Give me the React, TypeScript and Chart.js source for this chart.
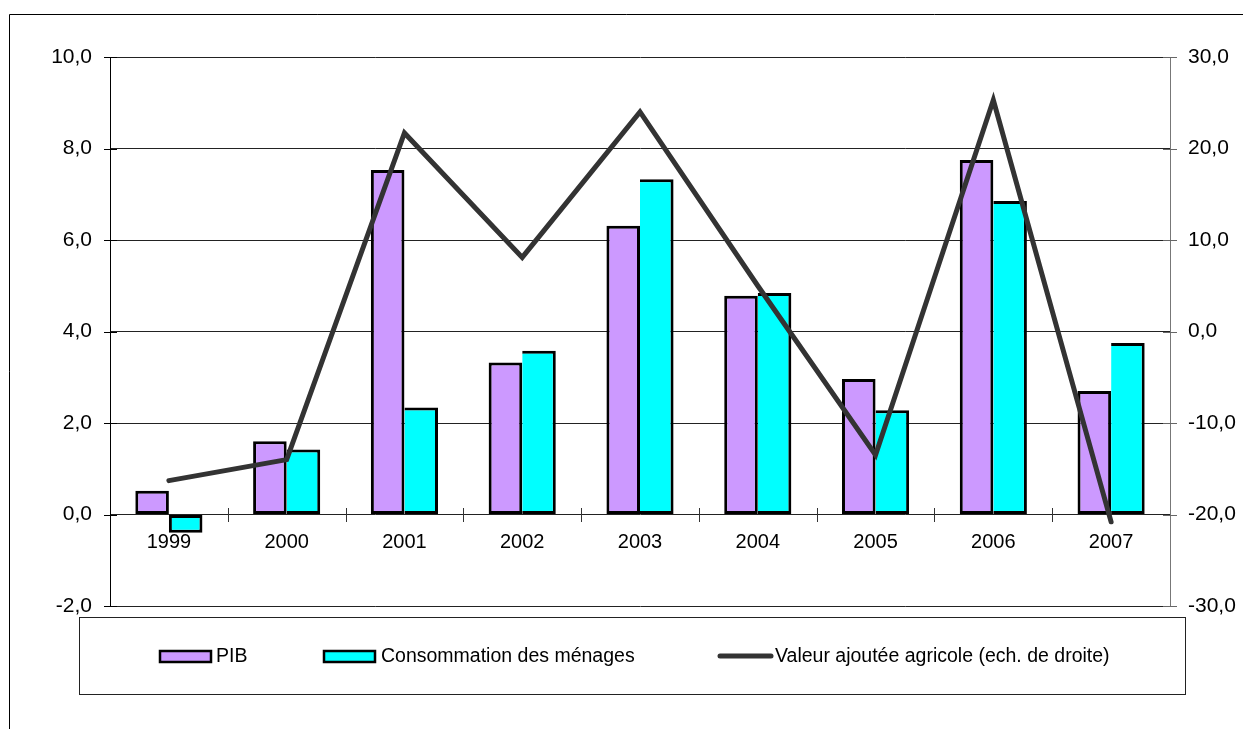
import React, { useEffect, useRef } from "react";
import { Chart, registerables } from "chart.js";

Chart.register(...registerables);

const years = ["1999", "2000", "2001", "2002", "2003", "2004", "2005", "2006", "2007"];
const pib = [0.52, 1.6, 7.53, 3.32, 6.31, 4.78, 2.96, 7.75, 2.7];
const conso = [-0.4, 1.42, 2.34, 3.58, 7.33, 4.84, 2.28, 6.85, 3.75];
const agri = [-16.3, -14.0, 21.7, 8.1, 24.0, 5.0, -13.5, 25.3, -20.8];
const leftTicks = [-2, 0, 2, 4, 6, 8, 10];
const rightTicks = [-30, -20, -10, 0, 10, 20, 30];
const legendLabels = ["PIB", "Consommation des ménages", "Valeur ajoutée agricole (ech. de droite)"];

const FONT = '"Liberation Sans", Arial, sans-serif';
const PIB_COLOR = "#CC99FF";
const CONSO_COLOR = "#00FFFF";
const LINE_COLOR = "#333333";
const BW = 3;

const fmt = (v: number) => v.toFixed(1).replace(".", ",");

const decor = {
  id: "decor",
  afterDraw(chart: any) {
    const ctx = chart.ctx as CanvasRenderingContext2D;
    const { left, right } = chart.chartArea;
    const ys = chart.scales.y;
    const y2 = chart.scales.y2;
    const xs = chart.scales.x;
    ctx.save();
    ctx.lineWidth = 1;
    ctx.strokeStyle = "#000";
    leftTicks.forEach((t) => {
      const py = Math.round(ys.getPixelForValue(t)) + 0.5;
      ctx.beginPath();
      ctx.moveTo(left - 6, py);
      ctx.lineTo(left + 7, py);
      ctx.stroke();
    });
    ctx.strokeStyle = "#666";
    rightTicks.forEach((t) => {
      const py = Math.round(y2.getPixelForValue(t)) + 0.5;
      ctx.beginPath();
      ctx.moveTo(right - 7, py);
      ctx.lineTo(right + 7, py);
      ctx.stroke();
    });
    ctx.strokeStyle = "#333";
    const y0 = Math.round(ys.getPixelForValue(0));
    for (let i = 1; i < years.length; i++) {
      const px = Math.round((xs.getPixelForValue(i - 1) + xs.getPixelForValue(i)) / 2) + 0.5;
      ctx.beginPath();
      ctx.moveTo(px, y0 - 7);
      ctx.lineTo(px, y0 + 7);
      ctx.stroke();
    }
    // outer frame
    ctx.strokeStyle = "#000";
    ctx.lineWidth = 1;
    ctx.beginPath();
    ctx.moveTo(9.5, 729);
    ctx.lineTo(9.5, 14.5);
    ctx.lineTo(1243, 14.5);
    ctx.stroke();
    // legend box
    ctx.strokeStyle = "#222";
    ctx.strokeRect(79.5, 617.5, 1106, 77);
    const ly = 656;
    const drawSwatch = (x: number, w: number, fill: string) => {
      ctx.fillStyle = fill;
      ctx.fillRect(x, ly - 5, w, 11);
      ctx.lineWidth = 2.5;
      ctx.strokeStyle = "#000";
      ctx.strokeRect(x, ly - 5, w, 11);
    };
    drawSwatch(160, 51, PIB_COLOR);
    drawSwatch(324, 51, CONSO_COLOR);
    ctx.lineWidth = 5;
    ctx.lineCap = "round";
    ctx.strokeStyle = LINE_COLOR;
    ctx.beginPath();
    ctx.moveTo(720, ly);
    ctx.lineTo(771, ly);
    ctx.stroke();
    ctx.fillStyle = "#000";
    ctx.font = `19.5px ${FONT}`;
    ctx.textBaseline = "middle";
    ctx.textAlign = "left";
    ctx.fillText(legendLabels[0], 216, ly + 1);
    ctx.fillText(legendLabels[1], 381, ly + 1);
    ctx.fillText(legendLabels[2], 775, ly + 1);
    ctx.restore();
  },
};

export default function App() {
  const ref = useRef<HTMLCanvasElement | null>(null);
  useEffect(() => {
    const canvas = ref.current;
    if (!canvas) return;
    const chart = new Chart(canvas, {
      type: "bar",
      data: {
        labels: years,
        datasets: [
          {
            type: "bar",
            label: legendLabels[0],
            data: pib,
            backgroundColor: PIB_COLOR,
            borderColor: "#000",
            borderWidth: BW,
            borderSkipped: false,
            yAxisID: "y",
            order: 2,
            categoryPercentage: 0.57,
            barPercentage: 1,
          },
          {
            type: "bar",
            label: legendLabels[1],
            data: conso,
            backgroundColor: CONSO_COLOR,
            borderColor: "#000",
            borderWidth: (c: any) => {
              const i = c.dataIndex;
              const shared = i != null && pib[i] * conso[i] > 0;
              return { top: BW, bottom: BW, right: BW, left: shared ? 0 : BW };
            },
            borderSkipped: false,
            yAxisID: "y",
            order: 2,
            categoryPercentage: 0.57,
            barPercentage: 1,
          } as any,
          {
            type: "line",
            label: legendLabels[2],
            data: agri,
            borderColor: LINE_COLOR,
            borderWidth: 5,
            pointRadius: 0,
            tension: 0,
            yAxisID: "y2",
            order: 0,
            borderJoinStyle: "miter",
            borderCapStyle: "round",
            clip: false,
          } as any,
        ],
      },
      options: {
        animation: false,
        responsive: false,
        devicePixelRatio: 1,
        layout: { padding: { top: 57, bottom: 123, left: 0, right: 0 } },
        plugins: { legend: { display: false }, tooltip: { enabled: false } },
        scales: {
          x: {
            type: "category",
            position: { y: 0 } as any,
            offset: true,
            grid: { display: false },
            border: { display: false },
            ticks: { color: "#000", font: { family: FONT, size: 20 }, padding: 8, maxRotation: 0 },
          },
          y: {
            position: "left",
            min: -2,
            max: 10,
            ticks: { stepSize: 2, callback: (v: any) => fmt(Number(v)), color: "#000", font: { family: FONT, size: 21 }, padding: 18 },
            grid: { color: "#222", lineWidth: 1, drawTicks: false },
            border: { display: true, color: "#000", width: 1 },
            afterFit: (s: any) => {
              s.width = 110;
            },
          },
          y2: {
            position: "right",
            min: -30,
            max: 30,
            ticks: { stepSize: 10, callback: (v: any) => fmt(Number(v)), color: "#000", font: { family: FONT, size: 21 }, padding: 18 },
            grid: { drawOnChartArea: false, drawTicks: false },
            border: { display: true, color: "#777", width: 1 },
            afterFit: (s: any) => {
              s.width = 73;
            },
          },
        } as any,
      },
      plugins: [decor],
    });
    return () => chart.destroy();
  }, []);
  return (
    <div style={{ position: "fixed", left: 0, top: 0, width: 1243, height: 729, background: "#fff" }}>
      <canvas ref={ref} width={1243} height={729} style={{ display: "block" }} />
    </div>
  );
}
